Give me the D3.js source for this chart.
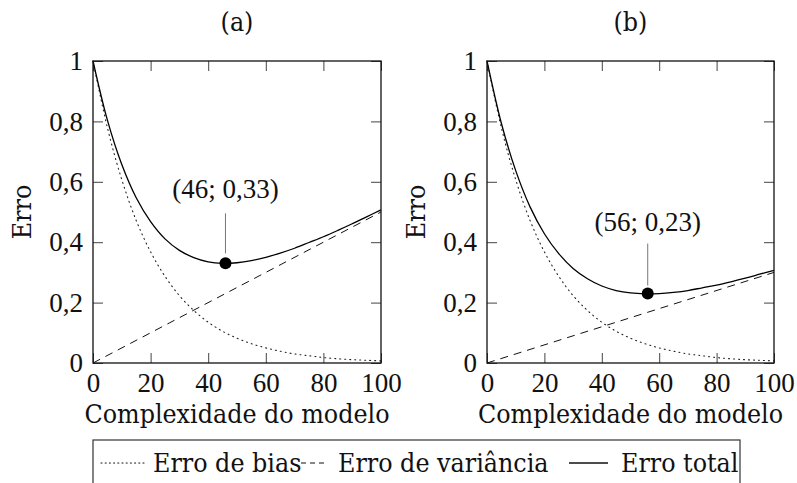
<!DOCTYPE html>
<html><head><meta charset="utf-8">
<script src="https://cdn.jsdelivr.net/npm/d3@7"></script>
<style>body{margin:0;background:#fff}svg{display:block}</style>
</head><body><svg id="c" width="797" height="483"></svg>
<script>
const xs = [0,5,10,15,20,25,30,35,40,45,50,55,60,65,70,75,80,85,90,95,100];
const biasVals = [1.0,0.779,0.607,0.472,0.368,0.287,0.223,0.174,0.135,0.105,0.082,0.064,0.050,0.039,0.030,0.024,0.018,0.014,0.011,0.009,0.007];
const varA = [[0,0],[100,0.5]];
const varB = [[0,0],[100,0.3]];
const totalA = [1.0,0.804,0.657,0.547,0.468,0.411,0.373,0.349,0.335,0.330,0.332,0.339,0.350,0.364,0.380,0.399,0.418,0.439,0.461,0.484,0.507];
const totalB = [1.0,0.794,0.637,0.517,0.428,0.362,0.313,0.279,0.255,0.240,0.232,0.229,0.230,0.234,0.240,0.249,0.258,0.269,0.281,0.294,0.307];
const minA = {x:46, y:0.33, label:"(46; 0,33)"};
const minB = {x:56, y:0.23, label:"(56; 0,23)"};
const xTicks = [0,20,40,60,80,100];
const yTicks = [0,0.2,0.4,0.6,0.8,1];
const yTickLabels = ["0","0,2","0,4","0,6","0,8","1"];
const titles = ["(a)","(b)"];
const xLabel = "Complexidade do modelo";
const yLabel = "Erro";
const legendLabels = ["Erro de bias","Erro de variância","Erro total"];

const svg = d3.select("#c");
const numFont = "'Liberation Serif', serif";
const txtFont = "'DejaVu Serif Condensed','DejaVu Serif', serif";
const numSize = 27, txtSize = 26.5;

const panels = [
  {left:93, right:381, total:totalA, vari:varA, min:minA, title:titles[0], annDy:[-65,-50,-10]},
  {left:487, right:774, total:totalB, vari:varB, min:minB, title:titles[1], annDy:[-63,-50,-8]}
];
const yTop = 61, yBot = 363;

panels.forEach(p => {
  const x = d3.scaleLinear().domain([0,100]).range([p.left,p.right]);
  const y = d3.scaleLinear().domain([0,1]).range([yBot,yTop]);
  const g = svg.append("g");
  const line = d3.line().x(d=>x(d[0])).y(d=>y(d[1])).curve(d3.curveCatmullRom.alpha(0.5));

  const tl = 10;
  const ax = [
    d3.axisBottom(x).tickValues(xTicks).tickSizeInner(-tl).tickSizeOuter(0).tickFormat(d=>d),
    d3.axisTop(x).tickValues(xTicks).tickSizeInner(-tl).tickSizeOuter(0).tickFormat(""),
    d3.axisLeft(y).tickValues(yTicks).tickSizeInner(-tl).tickSizeOuter(0).tickFormat((d,i)=>yTickLabels[i]),
    d3.axisRight(y).tickValues(yTicks).tickSizeInner(-tl).tickSizeOuter(0).tickFormat("")
  ];
  const tr = [`translate(0,${yBot})`,`translate(0,${yTop})`,`translate(${p.left},0)`,`translate(${p.right},0)`];
  ax.forEach((a,i)=>{
    const ag = g.append("g").attr("transform",tr[i]).call(a);
    ag.select(".domain").remove();
    ag.selectAll("line").attr("stroke","#444").attr("stroke-width",1);
    ag.selectAll("text").attr("font-family",numFont).attr("font-size",numSize).attr("fill","#111");
    if(i===0) ag.selectAll("text").attr("y",29).attr("dy","0");
    if(i===2) ag.selectAll("text").attr("x",-10).attr("dy","0.32em");
  });

  const biasPts = xs.map((v,i)=>[v,biasVals[i]]);
  const totPts = xs.map((v,i)=>[v,p.total[i]]);
  g.append("path").attr("d",line(biasPts)).attr("fill","none").attr("stroke","#222")
    .attr("stroke-width",1.1).attr("stroke-dasharray","1,4").attr("stroke-linecap","round");
  g.append("path").attr("d",d3.line().x(d=>x(d[0])).y(d=>y(d[1]))(p.vari)).attr("fill","none")
    .attr("stroke","#111").attr("stroke-width",1).attr("stroke-dasharray","8,6");
  g.append("path").attr("d",line(totPts)).attr("fill","none").attr("stroke","#000").attr("stroke-width",1.3);

  g.append("rect").attr("x",p.left).attr("y",yTop).attr("width",p.right-p.left).attr("height",yBot-yTop)
    .attr("fill","none").attr("stroke","#111").attr("stroke-width",1.3);

  const mx = x(p.min.x), my = y(p.min.y);
  g.append("line").attr("x1",mx).attr("x2",mx).attr("y1",my+p.annDy[1]).attr("y2",my+p.annDy[2])
    .attr("stroke","#777").attr("stroke-width",1);
  g.append("circle").attr("cx",mx).attr("cy",my).attr("r",6).attr("fill","#000");
  g.append("text").attr("x",mx).attr("y",my+p.annDy[0]).attr("text-anchor","middle")
    .attr("font-family",numFont).attr("font-size",numSize).attr("fill","#111").text(p.min.label);

  g.append("text").attr("x",(p.left+p.right)/2).attr("y",31).attr("text-anchor","middle")
    .attr("font-family",txtFont).attr("font-size",txtSize).attr("fill","#111").text(p.title);
  g.append("text").attr("x",(p.left+p.right)/2).attr("y",423).attr("text-anchor","middle")
    .attr("font-family",txtFont).attr("font-size",txtSize).attr("fill","#111").text(xLabel);
  g.append("text").attr("transform",`translate(${p.left-62},${(yTop+yBot)/2}) rotate(-90)`)
    .attr("text-anchor","middle").attr("font-family",txtFont).attr("font-size",txtSize).attr("fill","#111").text(yLabel);
});

const lg = svg.append("g");
lg.append("rect").attr("x",93).attr("y",440).attr("width",647).attr("height",60)
  .attr("fill","none").attr("stroke","#333").attr("stroke-width",1.2);
const ly = 463;
const items = [
  {x0:101,x1:146,dash:"1,3.2",w:1.1,tx:153,label:legendLabels[0]},
  {x0:301,x1:325,dash:"5,4",w:1,tx:338,label:legendLabels[1]},
  {x0:569,x1:608,dash:null,w:1.3,tx:621,label:legendLabels[2]}
];
items.forEach(it=>{
  const l = lg.append("line").attr("x1",it.x0).attr("x2",it.x1).attr("y1",ly).attr("y2",ly)
    .attr("stroke","#111").attr("stroke-width",it.w);
  if(it.dash) l.attr("stroke-dasharray",it.dash).attr("stroke-linecap", it.dash.startsWith("1,")?"round":"butt");
  lg.append("text").attr("x",it.tx).attr("y",ly+9).attr("font-family",txtFont).attr("font-size",txtSize)
    .attr("fill","#111").text(it.label);
});
</script></body></html>
